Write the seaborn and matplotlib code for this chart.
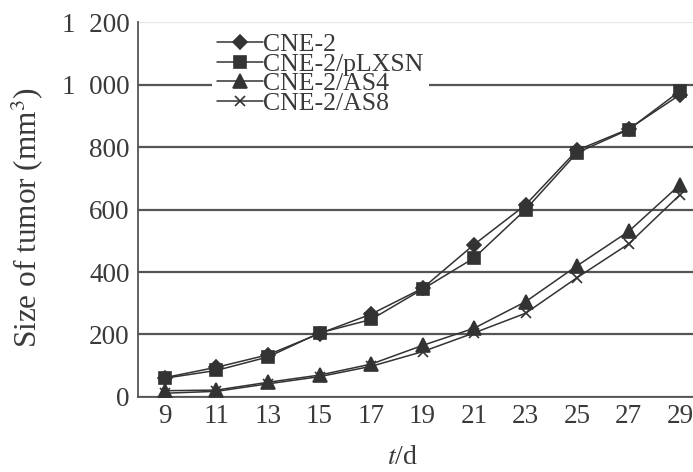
import pandas as pd
import numpy as np
import matplotlib
matplotlib.use("Agg")
import matplotlib.pyplot as plt
import seaborn as sns

# data
days = [9, 11, 13, 15, 17, 19, 21, 23, 25, 27, 29]
cne2 = [62, 95, 135, 203, 265, 348, 488, 615, 790, 858, 968]
plxsn = [60, 85, 128, 205, 248, 345, 445, 600, 782, 856, 980]
as4 = [20, 22, 47, 70, 105, 165, 220, 305, 420, 530, 680]
as8 = [12, 18, 42, 65, 98, 145, 205, 268, 382, 490, 648]
groups = ["CNE-2", "CNE-2/pLXSN", "CNE-2/AS4", "CNE-2/AS8"]
yticks = [0, 200, 400, 600, 800, 1000, 1200]
ytick_labels = ["0", "200", "400", "600", "800", "1\u2002000", "1\u2002200"]

df = pd.DataFrame({
    "day": days * 4,
    "size": cne2 + plxsn + as4 + as8,
    "group": np.repeat(groups, len(days)),
})

sns.set_style("white")
plt.rcParams["font.family"] = ["Liberation Serif", "DejaVu Serif"]
plt.rcParams["mathtext.fontset"] = "stix"
txt = "#3a3a3a"
ink = "#333333"

fig = plt.figure(figsize=(6.93, 4.72), dpi=100)
ax = fig.add_axes([0.199, 0.159, 0.801, 0.794])

# filled and line markers can't be mixed in one call, so one call per group
markers = {"CNE-2": "D", "CNE-2/pLXSN": "s", "CNE-2/AS4": "^", "CNE-2/AS8": "x"}
msizes = {"CNE-2": 7.5, "CNE-2/pLXSN": 8.5, "CNE-2/AS4": 9.5, "CNE-2/AS8": 7.5}
for g in groups:
    sns.lineplot(data=df[df["group"] == g], x="day", y="size", label=g,
                 color=ink, marker=markers[g], markersize=msizes[g],
                 markeredgecolor=ink, markeredgewidth=1.2,
                 linewidth=1.1, ax=ax, zorder=3)

ax.set_xlim(7.95, 29.5)
ax.set_ylim(0, 1200)
ax.set_xticks(days)
ax.set_yticks(yticks)
ax.set_yticklabels(ytick_labels)
ax.tick_params(axis="both", labelsize=19.5, colors=txt, direction="in",
               length=5, width=1)
ax.tick_params(axis="y", pad=6)
ax.tick_params(axis="x", pad=5)
ax.grid(axis="y", color="#555555", linewidth=1.6)
ax.yaxis.get_gridlines()[-1].set_alpha(0.15)
for s in ["top", "right"]:
    ax.spines[s].set_visible(False)
for s in ["left", "bottom"]:
    ax.spines[s].set_color("#555555")
    ax.spines[s].set_linewidth(1.3)

ax.set_xlabel("$t$/d", fontsize=20, color=txt)
ax.xaxis.set_label_coords(0.476, -0.128)
ax.set_ylabel("Size of tumor (mm$^3$)", fontsize=22.5, color=txt)
ax.yaxis.set_label_coords(-0.168, 0.48)

handles, labels = ax.get_legend_handles_labels()
leg = ax.legend(handles, labels, loc="upper left", bbox_to_anchor=(0.11, 1.02),
                fontsize=18.5, frameon=True, facecolor="white", edgecolor="none",
                framealpha=1, handlelength=1.8, handletextpad=0.0,
                labelspacing=-0.12, borderpad=0.2)
for t in leg.get_texts():
    t.set_color(txt)
leg.set_zorder(5)

fig.savefig("out.png", dpi=100)
